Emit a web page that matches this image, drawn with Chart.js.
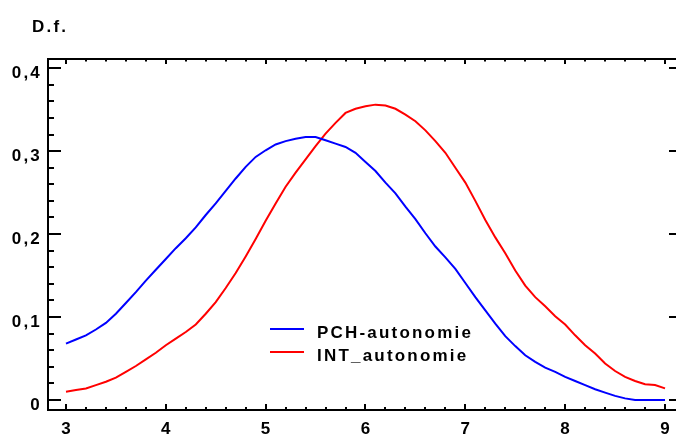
<!DOCTYPE html>
<html><head><meta charset="utf-8">
<script src="https://cdn.jsdelivr.net/npm/chart.js@4"></script>
<style>html,body{margin:0;padding:0;background:#fff;overflow:hidden}#wrap{width:676px;height:434px;overflow:hidden;position:relative}</style>
</head><body><div id="wrap"><canvas id="c" width="690" height="434"></canvas></div>
<script>
const xValues = [3.0,3.1,3.2,3.3,3.4,3.5,3.6,3.7,3.8,3.9,4.0,4.1,4.2,4.3,4.4,4.5,4.6,4.7,4.8,4.9,5.0,5.1,5.2,5.3,5.4,5.5,5.6,5.7,5.8,5.9,6.0,6.1,6.2,6.3,6.4,6.5,6.6,6.7,6.8,6.9,7.0,7.1,7.2,7.3,7.4,7.5,7.6,7.7,7.8,7.9,8.0,8.1,8.2,8.3,8.4,8.5,8.6,8.7,8.8,8.9,9.0];
const pchValues = [0.068,0.073,0.078,0.085,0.093,0.104,0.117,0.130,0.144,0.157,0.170,0.183,0.195,0.208,0.223,0.237,0.252,0.267,0.281,0.293,0.301,0.308,0.312,0.315,0.317,0.317,0.313,0.309,0.305,0.298,0.287,0.276,0.262,0.249,0.233,0.218,0.201,0.185,0.172,0.158,0.141,0.124,0.108,0.092,0.077,0.065,0.054,0.046,0.039,0.034,0.028,0.023,0.018,0.013,0.009,0.005,0.002,0.000,0.000,0.000,0.000];
const intValues = [0.010,0.012,0.014,0.018,0.022,0.027,0.034,0.041,0.049,0.057,0.066,0.074,0.082,0.091,0.104,0.118,0.135,0.153,0.173,0.194,0.216,0.237,0.257,0.274,0.290,0.306,0.321,0.334,0.346,0.351,0.354,0.356,0.355,0.351,0.344,0.336,0.325,0.312,0.298,0.280,0.262,0.240,0.217,0.196,0.177,0.156,0.138,0.124,0.113,0.101,0.091,0.078,0.066,0.056,0.044,0.035,0.028,0.023,0.019,0.018,0.014];
const seriesNames = ['PCH-autonomie','INT_autonomie'];
const seriesColors = ['#0000ff','#ff0000'];
const xTickValues = [3,4,5,6,7,8,9];
const xTickLabels = ['3','4','5','6','7','8','9'];
const yTickValues = [0,0.1,0.2,0.3,0.4];
const yTickLabels = ['0','0,1','0,2','0,3','0,4'];
const yAxisTitle = 'D.f.';

const FONT = 'bold 17px "Liberation Sans", Arial, sans-serif';

const framePlugin = {
  id: 'frame',
  afterDraw(chart) {
    const ctx = chart.ctx, a = chart.chartArea;
    const xs = chart.scales.x, ys = chart.scales.y;
    ctx.save();
    ctx.strokeStyle = '#000';
    ctx.lineWidth = 2;
    ctx.strokeRect(a.left, a.top, a.right - a.left, a.bottom - a.top);
    ctx.beginPath();
    for (let i = 15; i <= 45; i++) {
      const px = Math.round(xs.getPixelForValue(i / 5));
      const major = i % 5 === 0;
      ctx.moveTo(px, a.bottom); ctx.lineTo(px, a.bottom - (major ? 6 : 3));
      ctx.moveTo(px, a.top); ctx.lineTo(px, a.top + (major ? 5 : 2.5));
    }
    for (let i = 0; i <= 20; i++) {
      const py = Math.round(ys.getPixelForValue(i * 0.02));
      const major = i % 5 === 0;
      ctx.moveTo(a.left, py); ctx.lineTo(a.left + (major ? 13 : 6), py);
      ctx.moveTo(a.right, py); ctx.lineTo(a.right - (major ? 13 : 6), py);
    }
    ctx.stroke();

    ctx.fillStyle = '#000';
    ctx.font = FONT;
    ctx.letterSpacing = '2.2px';
    ctx.textBaseline = 'alphabetic';
    ctx.textAlign = 'right';
    yTickValues.forEach((v, i) => {
      ctx.fillText(yTickLabels[i], 42, ys.getPixelForValue(v) + 10);
    });
    ctx.textAlign = 'center';
    xTickValues.forEach((v, i) => {
      ctx.fillText(xTickLabels[i], xs.getPixelForValue(v) + 1, 434);
    });
    ctx.textAlign = 'left';
    ctx.fillText(yAxisTitle, 32, 32);

    chart.data.datasets.forEach((ds, i) => {
      const ly = 329 + i * 23;
      ctx.strokeStyle = ds.borderColor;
      ctx.lineWidth = 2;
      ctx.beginPath(); ctx.moveTo(270, ly); ctx.lineTo(304, ly); ctx.stroke();
      ctx.fillStyle = '#000';
      ctx.fillText(ds.label, 317, ly + 9);
    });
    ctx.restore();
  }
};

const mk = (vals) => xValues.map((x, i) => ({ x: x, y: vals[i] }));

new Chart(document.getElementById('c'), {
  type: 'line',
  data: {
    datasets: [
      { label: seriesNames[0], data: mk(pchValues), borderColor: seriesColors[0], borderWidth: 2, pointRadius: 0, tension: 0, fill: false },
      { label: seriesNames[1], data: mk(intValues), borderColor: seriesColors[1], borderWidth: 2, pointRadius: 0, tension: 0, fill: false }
    ]
  },
  options: {
    responsive: false,
    devicePixelRatio: 1,
    animation: false,
    layout: { padding: { left: 48, top: 59, right: 8, bottom: 24 } },
    plugins: { legend: { display: false }, tooltip: { enabled: false }, title: { display: false } },
    scales: {
      x: { type: 'linear', min: 2.82, max: 9.17, display: false },
      y: { type: 'linear', min: -0.012, max: 0.411, display: false }
    }
  },
  plugins: [framePlugin]
});
</script>
</body></html>
